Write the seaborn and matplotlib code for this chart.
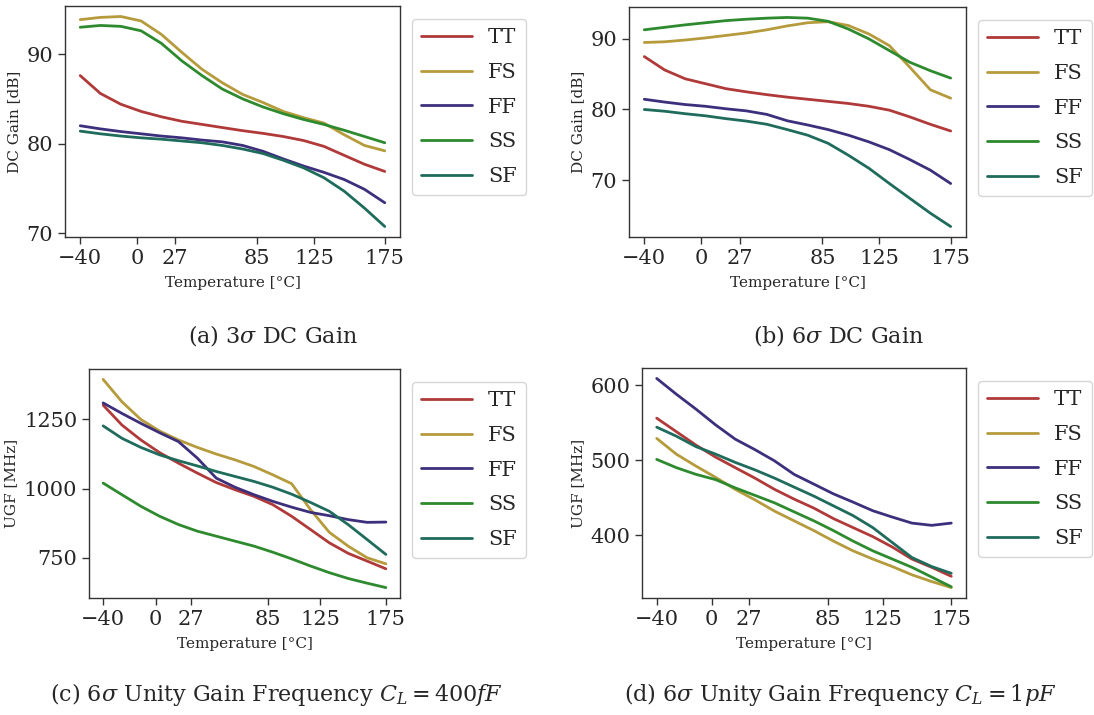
import numpy as np
import pandas as pd
import matplotlib
matplotlib.use("Agg")
import matplotlib.pyplot as plt
import seaborn as sns

sns.set_theme(style="ticks")
plt.rcParams["font.family"] = ["DejaVu Serif"]
plt.rcParams["mathtext.fontset"] = "dejavuserif"
plt.rcParams["axes.edgecolor"] = "#333333"
plt.rcParams["axes.linewidth"] = 1.0

# temperature sweep points [degC]
temps = [-40, -25.7, -11.3, 3, 17.3, 31.7, 46, 60.3, 74.7, 89, 103.3, 117.7, 132, 146.3, 160.7, 175]
corners = ["TT", "FS", "FF", "SS", "SF"]
colors = ["#b03a3a", "#b59b3c", "#3d2f7c", "#2e8a2e", "#1f6b5c"]
xticks = [-40, 0, 27, 85, 125, 175]

# (a) 3 sigma DC gain [dB]
gain3_tt = [87.6, 85.6, 84.4, 83.6, 83.0, 82.5, 82.15, 81.8, 81.45, 81.15, 80.8, 80.35, 79.7, 78.7, 77.7, 76.9]
gain3_fs = [93.85, 94.1, 94.2, 93.7, 92.2, 90.2, 88.3, 86.8, 85.5, 84.6, 83.6, 82.9, 82.3, 81.0, 79.8, 79.2]
gain3_ff = [82.0, 81.65, 81.35, 81.1, 80.85, 80.65, 80.4, 80.2, 79.8, 79.15, 78.3, 77.5, 76.8, 76.0, 74.9, 73.4]
gain3_ss = [93.0, 93.2, 93.1, 92.6, 91.2, 89.25, 87.6, 86.1, 85.0, 84.1, 83.35, 82.7, 82.15, 81.5, 80.8, 80.1]
gain3_sf = [81.4, 81.1, 80.85, 80.65, 80.5, 80.3, 80.1, 79.8, 79.4, 78.9, 78.15, 77.3, 76.2, 74.7, 72.8, 70.75]

# (b) 6 sigma DC gain [dB]
gain6_tt = [87.5, 85.6, 84.35, 83.65, 82.95, 82.5, 82.1, 81.75, 81.45, 81.15, 80.85, 80.45, 79.9, 78.95, 77.9, 76.95]
gain6_fs = [89.5, 89.6, 89.85, 90.15, 90.5, 90.85, 91.3, 91.85, 92.3, 92.45, 91.9, 90.7, 89.05, 86.0, 82.8, 81.6]
gain6_ff = [81.45, 81.05, 80.7, 80.45, 80.1, 79.8, 79.3, 78.4, 77.8, 77.15, 76.35, 75.4, 74.3, 72.9, 71.4, 69.5]
gain6_ss = [91.3, 91.65, 92.0, 92.3, 92.6, 92.8, 92.95, 93.05, 92.95, 92.5, 91.4, 90.0, 88.35, 86.7, 85.5, 84.45]
gain6_sf = [80.0, 79.75, 79.4, 79.1, 78.7, 78.35, 77.9, 77.15, 76.35, 75.2, 73.5, 71.65, 69.5, 67.4, 65.3, 63.4]

# (c) 6 sigma UGF, CL = 400 fF [MHz]
ugf400_tt = [1302, 1230, 1176, 1130, 1092, 1056, 1022, 996, 972, 942, 900, 852, 804, 766, 738, 710]
ugf400_fs = [1395, 1314, 1250, 1208, 1176, 1149, 1125, 1104, 1080, 1050, 1018, 924, 842, 792, 750, 728]
ugf400_ff = [1310, 1272, 1236, 1202, 1170, 1110, 1038, 1005, 978, 954, 933, 914, 902, 888, 878, 879]
ugf400_ss = [1020, 978, 936, 900, 870, 846, 828, 810, 792, 770, 746, 720, 696, 675, 658, 642]
ugf400_sf = [1227, 1182, 1149, 1122, 1101, 1082, 1062, 1044, 1026, 1005, 980, 950, 918, 870, 816, 762]

# (d) 6 sigma UGF, CL = 1 pF [MHz]
ugf1p_tt = [556, 538, 520, 504, 490, 476, 461, 448, 436, 422, 410, 398, 384, 368, 357, 345]
ugf1p_fs = [529, 508, 492, 477, 461, 447, 432, 419, 406, 392, 379, 368, 358, 347, 338, 330]
ugf1p_ff = [609, 588, 568, 547, 528, 514, 499, 481, 468, 455, 444, 432.5, 424, 416, 413, 416]
ugf1p_ss = [501, 490, 481, 474, 463, 453, 443, 431, 419, 406, 392, 379, 368, 357, 344, 331]
ugf1p_sf = [544, 532, 518, 508, 497, 487, 476, 464, 452, 439, 426, 410, 390, 370, 358, 349]

panels = [
    ([gain3_tt, gain3_fs, gain3_ff, gain3_ss, gain3_sf], "DC Gain [dB]", [70, 80, 90],
     r"(a) 3$\sigma$ DC Gain"),
    ([gain6_tt, gain6_fs, gain6_ff, gain6_ss, gain6_sf], "DC Gain [dB]", [70, 80, 90],
     r"(b) 6$\sigma$ DC Gain"),
    ([ugf400_tt, ugf400_fs, ugf400_ff, ugf400_ss, ugf400_sf], "UGF [MHz]", [750, 1000, 1250],
     r"(c) 6$\sigma$ Unity Gain Frequency $C_L = 400fF$"),
    ([ugf1p_tt, ugf1p_fs, ugf1p_ff, ugf1p_ss, ugf1p_sf], "UGF [MHz]", [400, 500, 600],
     r"(d) 6$\sigma$ Unity Gain Frequency $C_L = 1pF$"),
]

W, H = 1094, 715
# axes boxes in pixels: left, top, right, bottom
boxes = [(65, 6, 400, 237), (629, 7, 966, 237), (89, 369, 400, 598), (642, 368, 966, 598)]
captions_xy = [(273, 335), (838, 335), (276, 695), (840, 695)]

fig = plt.figure(figsize=(W / 100, H / 100), dpi=100)

for (series, ylabel, yticks, caption), (l, t, r, b), (cx, cy) in zip(panels, boxes, captions_xy):
    ax = fig.add_axes([l / W, 1 - b / H, (r - l) / W, (b - t) / H])
    rows = []
    for name, vals in zip(corners, series):
        for T, v in zip(temps, vals):
            rows.append((T, v, name))
    df = pd.DataFrame(rows, columns=["Temperature", "Value", "Corner"])
    sns.lineplot(data=df, x="Temperature", y="Value", hue="Corner", hue_order=corners,
                 palette=colors, linewidth=2, ax=ax)
    ax.set_xticks(xticks)
    ax.set_yticks(yticks)
    ax.tick_params(axis="both", labelsize=15, length=5, width=1, color="#333333")
    ax.set_xlabel("Temperature [°C]", fontsize=11, labelpad=6)
    ax.set_ylabel(ylabel, fontsize=11)
    # legend sits just right of each panel
    off = 12 / (r - l)
    leg = ax.legend(loc="upper left", bbox_to_anchor=(1 + off, 1 - 13 / (b - t)), borderaxespad=0,
                    fontsize=15, handlelength=2.45, labelspacing=0.75, handletextpad=0.75,
                    borderpad=0.45, frameon=True)
    for line in leg.get_lines():
        line.set_linewidth(2)
    fig.text(cx / W, 1 - cy / H, caption, ha="center", va="center", fontsize=16)

plt.savefig("out.png", dpi=100)
